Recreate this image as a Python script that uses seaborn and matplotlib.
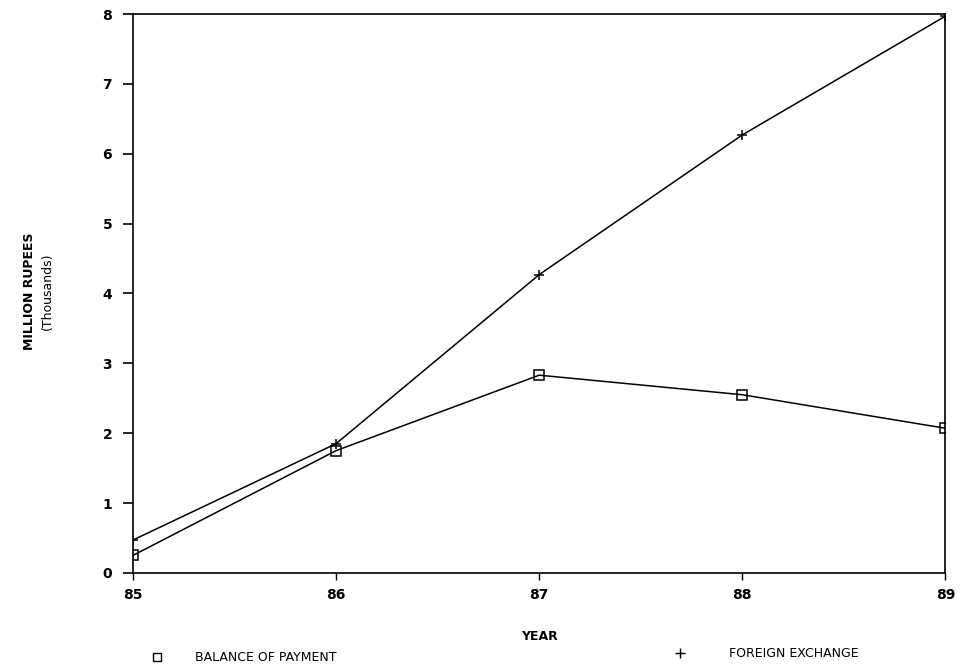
import matplotlib
matplotlib.use("Agg")
import matplotlib.pyplot as plt
import seaborn as sns
import pandas as pd
from matplotlib.lines import Line2D

years = [85, 86, 87, 88, 89]
balance_of_payment = [0.25, 1.75, 2.83, 2.55, 2.07]
foreign_exchange = [0.47, 1.85, 4.27, 6.27, 7.97]

df = pd.DataFrame({
    "YEAR": years * 2,
    "value": balance_of_payment + foreign_exchange,
    "series": ["BALANCE OF PAYMENT"] * 5 + ["FOREIGN EXCHANGE"] * 5,
})

sns.set_style("ticks")
plt.rcParams["font.family"] = ["DejaVu Sans"]
plt.rcParams["text.color"] = "black"
plt.rcParams["axes.labelcolor"] = "black"
plt.rcParams["xtick.color"] = "black"
plt.rcParams["ytick.color"] = "black"

fig = plt.figure(figsize=(9.66, 6.7), dpi=100)
ax = fig.add_axes([0.1377, 0.145, 0.841, 0.834])

sns.lineplot(data=df, x="YEAR", y="value", hue="series", style="series",
             markers={"BALANCE OF PAYMENT": "s", "FOREIGN EXCHANGE": "P"},
             dashes=False, palette=["black", "black"], linewidth=1.1,
             markersize=7, legend=False, ax=ax)

# open square markers and thin plus markers
lines = ax.get_lines()
lines[0].set_markerfacecolor("none")
lines[0].set_markeredgecolor("black")
lines[0].set_markeredgewidth(1.1)
lines[1].set_marker("+")
lines[1].set_markersize(7)
lines[1].set_markeredgecolor("black")
lines[1].set_markeredgewidth(1.1)

ax.set_xlim(85, 89)
ax.set_ylim(0, 8)
ax.set_xticks(years)
ax.set_yticks(range(0, 9))
for s in ax.spines.values():
    s.set_visible(True)
    s.set_color("black")
    s.set_linewidth(1.2)
ax.tick_params(axis="y", direction="out", length=7, width=1.2, labelsize=10, pad=8)
ax.tick_params(axis="x", direction="out", length=5, width=1.0, labelsize=10, pad=6)
for lab in ax.get_xticklabels() + ax.get_yticklabels():
    lab.set_fontweight("bold")
ax.set_xlabel("YEAR", fontsize=9, fontweight="bold", labelpad=20)
ax.set_ylabel("")

fig.text(0.031, 0.565, "MILLION RUPEES", rotation=90, ha="center", va="center",
         fontsize=9, fontweight="bold")
fig.text(0.049, 0.565, "(Thousands)", rotation=90, ha="center", va="center", fontsize=9)

# legend along the bottom
fig.add_artist(Line2D([0.163], [0.019], marker="s", markerfacecolor="none",
                      markeredgecolor="black", markersize=6, transform=fig.transFigure))
fig.text(0.202, 0.019, "BALANCE OF PAYMENT", ha="left", va="center", fontsize=9)
fig.add_artist(Line2D([0.704], [0.025], marker="+", color="black",
                      markersize=7, transform=fig.transFigure))
fig.text(0.755, 0.025, "FOREIGN EXCHANGE", ha="left", va="center", fontsize=9)

fig.savefig("out.png", dpi=100)
